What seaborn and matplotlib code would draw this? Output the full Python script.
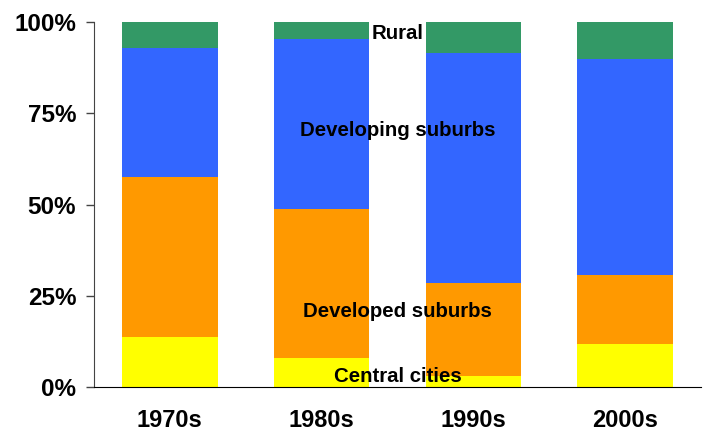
import numpy as np
import pandas as pd
import seaborn as sns
import matplotlib.pyplot as plt

decades = ['1970s', '1980s', '1990s', '2000s']
central = [13.7, 7.9, 3.0, 11.9]
developed = [43.8, 40.9, 25.5, 18.8]
developing = [35.5, 46.5, 63.0, 59.2]
rural = [7.0, 4.7, 8.5, 10.1]

layers = ['Central cities', 'Developed suburbs', 'Developing suburbs', 'Rural']
colors = ['#FFFF00', '#FF9900', '#3366FF', '#339966']
label_y = [2.8, 20.6, 70.2, 96.8]

sns.set_style('white')
plt.rcParams['font.family'] = ['Liberation Sans', 'DejaVu Sans']
plt.rcParams['font.weight'] = 'bold'
plt.rcParams['text.color'] = 'black'
plt.rcParams['xtick.color'] = 'black'
plt.rcParams['ytick.color'] = 'black'

df = pd.DataFrame({'decade': decades, 'Central cities': central,
                   'Developed suburbs': developed, 'Developing suburbs': developing,
                   'Rural': rural})
cum = df[layers].cumsum(axis=1)

fig = plt.figure(figsize=(7.04, 4.34), dpi=100)
ax = fig.add_axes([94 / 704, 1 - 387 / 434, (701 - 94) / 704, (387 - 22) / 434])

# stacked bars: draw cumulative totals from the top layer down
for name, c in reversed(list(zip(layers, colors))):
    sns.barplot(x=df['decade'], y=cum[name], color=c, width=0.63, saturation=1,
                order=decades, edgecolor='none', linewidth=0, ax=ax)

for name, yy in zip(layers, label_y):
    ax.text(1.5, yy, name, ha='center', va='center', fontsize=14.7,
            fontweight='bold', color='black')

ax.set_xlim(-0.5, 3.5)
ax.set_ylim(0, 100)
ax.set_yticks([0, 25, 50, 75, 100])
ax.set_yticklabels(['0%', '25%', '50%', '75%', '100%'])
ax.set_xlabel('')
ax.set_ylabel('')
ax.tick_params(axis='y', left=True, length=5.8, width=1, color='#444444',
               direction='out', labelsize=17.5, pad=7, labelcolor='black')
ax.tick_params(axis='x', bottom=False, length=0, labelsize=17, pad=15.5, labelcolor='black')
for lab in ax.get_xticklabels() + ax.get_yticklabels():
    lab.set_fontweight('bold')
sns.despine(ax=ax)
ax.spines['left'].set_color('#444444')
ax.spines['bottom'].set_color('#000000')

fig.savefig('out.png', dpi=100)
